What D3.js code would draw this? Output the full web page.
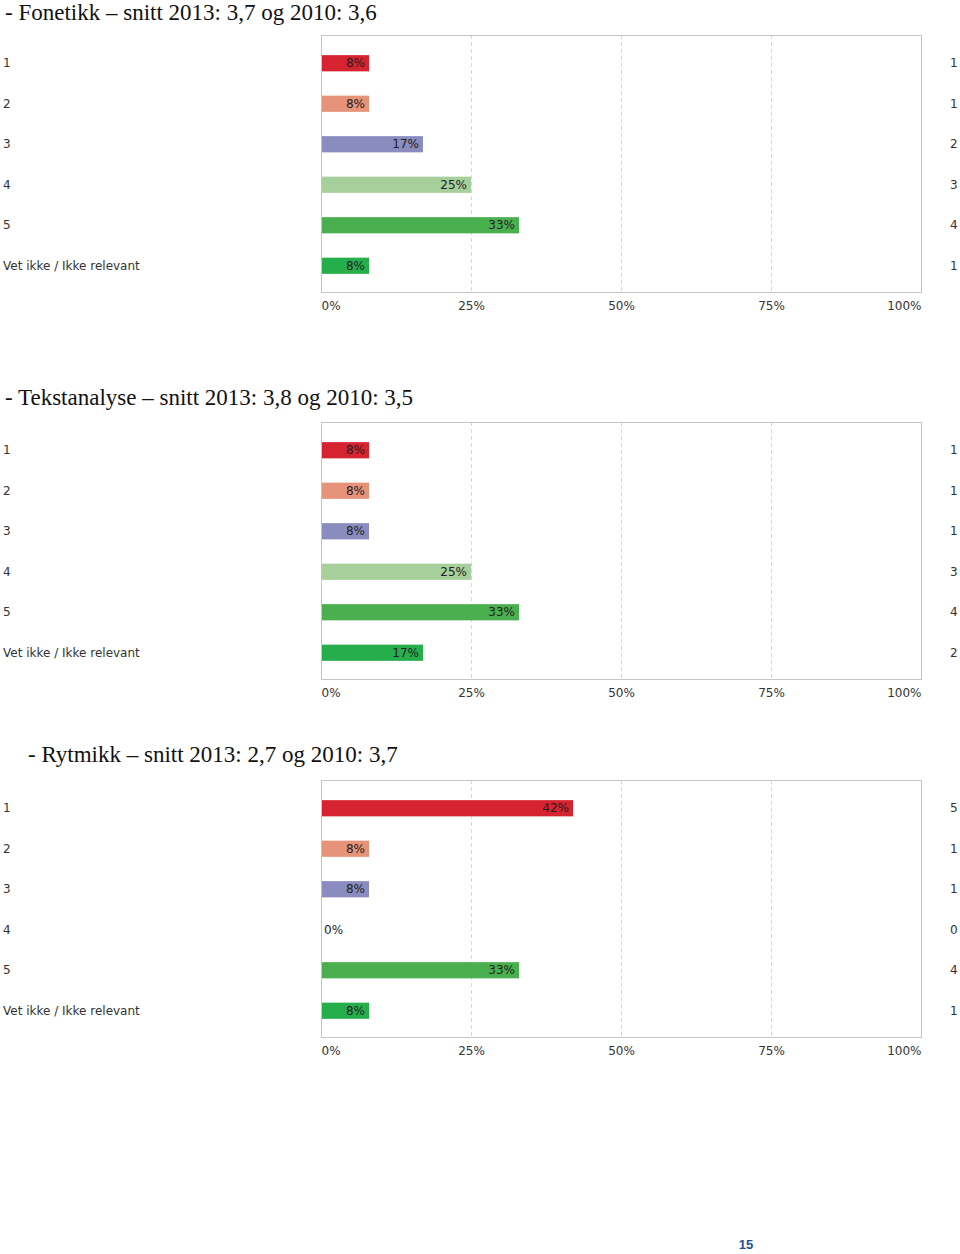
<!DOCTYPE html>
<html><head><meta charset="utf-8">
<script src="https://cdn.jsdelivr.net/npm/d3@7"></script>
<style>body{margin:0;background:#fff}svg{display:block}</style>
</head><body>
<svg id="c" width="960" height="1254"></svg>
<script>
const categories = ["1","2","3","4","5","Vet ikke / Ikke relevant"];
const titles = ["- Fonetikk \u2013 snitt 2013: 3,7 og 2010: 3,6",
                "- Tekstanalyse \u2013 snitt 2013: 3,8 og 2010: 3,5",
                "- Rytmikk \u2013 snitt 2013: 2,7 og 2010: 3,7"];
const fonetikkPct = [8,8,17,25,33,8];
const fonetikkN = [1,1,2,3,4,1];
const tekstanalysePct = [8,8,8,25,33,17];
const tekstanalyseN = [1,1,1,3,4,2];
const rytmikkPct = [42,8,8,0,33,8];
const rytmikkN = [5,1,1,0,4,1];
const tickValues = [0,25,50,75,100];
const colors = ["#d5232f","#e6937a","#8a8bbf","#a7cf9b","#4aaf4e","#26ae4c"];

const panels = [
  {title:titles[0], pct:fonetikkPct, n:fonetikkN, tx:5, ty:20, top:35},
  {title:titles[1], pct:tekstanalysePct, n:tekstanalyseN, tx:5, ty:405, top:422},
  {title:titles[2], pct:rytmikkPct, n:rytmikkN, tx:28, ty:762, top:780}
];
const svg = d3.select("#c");
const x = d3.scaleLinear().domain([0,100]).range([321,921]);
const plotH = 257;

panels.forEach(p => {
  svg.append("text").attr("x",p.tx).attr("y",p.ty)
    .attr("font-family","Liberation Serif, serif").attr("font-size",23).attr("fill","#111")
    .text(p.title);
  const g = svg.append("g");
  const y = d3.scaleBand().domain(categories).range([p.top+8, p.top+plotH-6]).paddingInner(0.6).paddingOuter(0.3);
  g.selectAll("line.grid").data([25,50,75]).join("line")
    .attr("x1",d=>x(d)+0.5).attr("x2",d=>x(d)+0.5)
    .attr("y1",p.top).attr("y2",p.top+plotH)
    .attr("stroke","#d6d6d6").attr("stroke-dasharray","4,3");
  g.append("rect").attr("x",x(0)+0.5).attr("y",p.top+0.5).attr("width",x(100)-x(0)).attr("height",plotH)
    .attr("fill","none").attr("stroke","#c4c4c4");
  g.selectAll("rect.bar").data(p.pct).join("rect")
    .attr("x",x(0)+1).attr("y",(d,i)=>y(categories[i]))
    .attr("width",d=>Math.max(0,x(d)-x(0)-1)).attr("height",y.bandwidth())
    .attr("fill",(d,i)=>colors[i]);
  g.selectAll("text.bl").data(p.pct).join("text")
    .attr("x",d=>d>0? x(d)-4 : x(0)+3)
    .attr("y",(d,i)=>y(categories[i])+y.bandwidth()/2+4)
    .attr("text-anchor",d=>d>0?"end":"start")
    .attr("font-family","DejaVu Sans, sans-serif").attr("font-size",12).attr("fill","#222")
    .text(d=>d+"%");
  g.selectAll("text.cat").data(categories).join("text")
    .attr("x",3).attr("y",d=>y(d)+y.bandwidth()/2+4)
    .attr("font-family","DejaVu Sans, sans-serif").attr("font-size",12).attr("fill","#333")
    .text(d=>d);
  g.selectAll("text.n").data(p.n).join("text")
    .attr("x",950).attr("y",(d,i)=>y(categories[i])+y.bandwidth()/2+4)
    .attr("font-family","DejaVu Sans, sans-serif").attr("font-size",12).attr("fill","#333")
    .text(d=>d);
  const ax = g.append("g").attr("transform",`translate(0,${p.top+plotH})`)
    .call(d3.axisBottom(x).tickValues(tickValues).tickFormat(d=>d+"%").tickSize(0).tickPadding(9));
  ax.select(".domain").remove();
  ax.selectAll("text").attr("font-family","DejaVu Sans, sans-serif").attr("font-size",12).attr("fill","#333")
    .attr("text-anchor",d=>d===0?"start":(d===100?"end":"middle"));
});

svg.append("text").attr("x",746).attr("y",1249).attr("text-anchor","middle")
  .attr("font-family","Liberation Sans, Arial, sans-serif").attr("font-weight","bold").attr("font-size",13)
  .attr("fill","#1f4f96").text("15");
</script>
</body></html>
